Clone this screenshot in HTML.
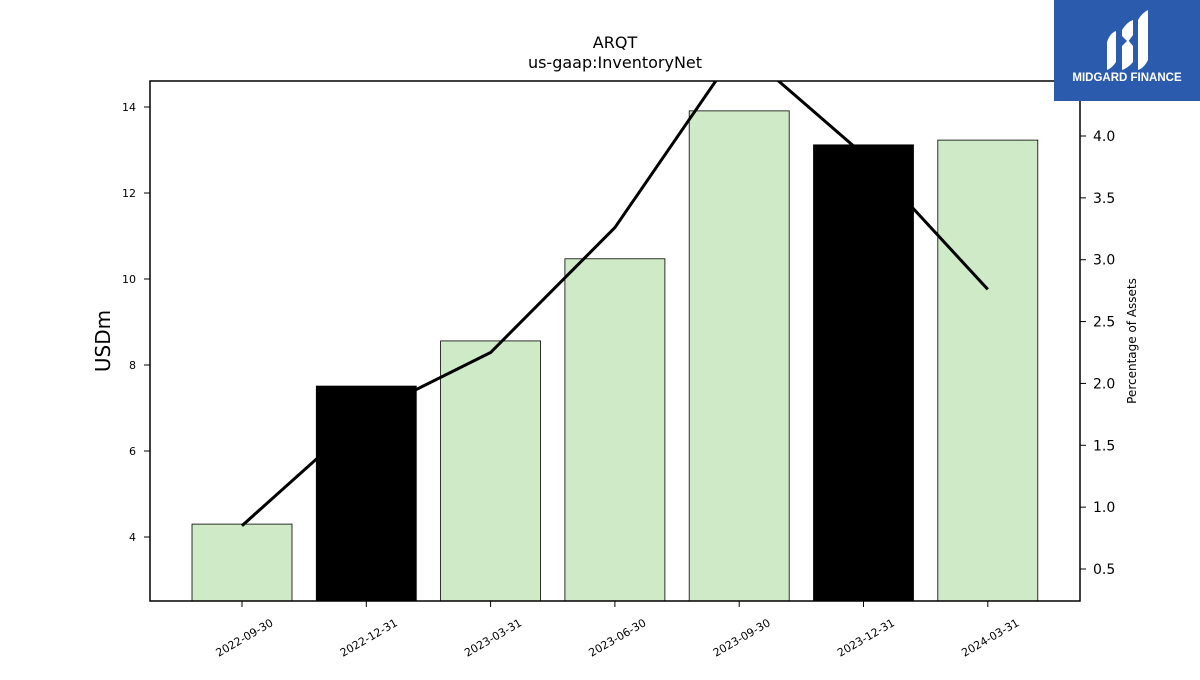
<!DOCTYPE html>
<html><head><meta charset="utf-8"><style>
body{margin:0;background:#fff;font-family:"Liberation Sans","DejaVu Sans",sans-serif}
</style></head><body>
<svg width="1200" height="675" xmlns="http://www.w3.org/2000/svg" font-family="DejaVu Sans, Liberation Sans, sans-serif">
<g id="bars"></g>
<polyline id="line" fill="none" stroke="#000" stroke-width="3" clip-path="url(#clip)"/>
<defs><clipPath id="clip"><rect x="150" y="81" width="930" height="520"/></clipPath></defs>
<rect x="150" y="81" width="930" height="520" fill="none" stroke="#000" stroke-width="1.5"/>
<g id="axes"></g>
<text x="615" y="48" font-size="16" text-anchor="middle">ARQT</text>
<text x="615" y="68" font-size="16" text-anchor="middle">us-gaap:InventoryNet</text>
<text transform="translate(110,341) rotate(-90)" font-size="20" text-anchor="middle">USDm</text>
<text transform="translate(1136,341) rotate(-90)" font-size="12" text-anchor="middle">Percentage of Assets</text>
<g>
<rect x="1054" y="0" width="146" height="101" fill="#2b5bad"/>
<path d="M1107 42 Q1110 33 1116 31 L1116 62 Q1112 68 1107 70 Z" fill="#fff"/>
<path d="M1122 30 Q1127 22 1133 20 L1133 35 L1128 42 L1122 36 Z M1122 46 L1128 40 L1133 46 L1133 62 Q1128 68 1122 70 Z" fill="#fff"/>
<path d="M1138 20 Q1142 13 1148 10 L1148 60 Q1144 68 1138 70 Z" fill="#fff"/>
<text x="1127" y="81" font-size="11.5" font-weight="bold" fill="#fff" text-anchor="middle" font-family="Liberation Sans, sans-serif">MIDGARD FINANCE</text>
</g>
</svg>
<script>
const categories=["2022-09-30","2022-12-31","2023-03-31","2023-06-30","2023-09-30","2023-12-31","2024-03-31"];
const barValues=[4.30,7.51,8.56,10.47,13.91,13.12,13.23];
const barHighlight=[0,1,0,0,0,1,0];
const pctValues=[0.85,1.75,2.25,3.26,4.72,3.85,2.76];
const leftTicks=[4,6,8,10,12,14];
const rightTicks=[0.5,1.0,1.5,2.0,2.5,3.0,3.5,4.0];
const NS="http://www.w3.org/2000/svg";
const yL=v=>537-(v-4)*43;
const yR=v=>569-(v-0.5)*(433/3.5);
const xC=i=>242+i*124.3;
function mk(t,a,p){const e=document.createElementNS(NS,t);for(const k in a)e.setAttribute(k,a[k]);p.appendChild(e);return e;}
const bars=document.getElementById('bars');
barValues.forEach((v,i)=>{
 const r=mk('rect',{x:xC(i)-50,y:yL(v),width:100,height:601-yL(v),fill:barHighlight[i]?'#000':'#cfeac6',stroke:'#000','stroke-width':0.8},bars);
 
 
});
document.getElementById('line').setAttribute('points',pctValues.map((v,i)=>xC(i)+','+yR(v)).join(' '));
const ax=document.getElementById('axes');
leftTicks.forEach(t=>{const y=yL(t);mk('line',{x1:144,x2:150,y1:y,y2:y,stroke:'#000'},ax);
 const tx=mk('text',{x:136,y:y+4,'font-size':11,'text-anchor':'end'},ax);tx.textContent=t;
 });
rightTicks.forEach(t=>{const y=yR(t);mk('line',{x1:1080,x2:1086,y1:y,y2:y,stroke:'#000'},ax);
 const tx=mk('text',{x:1093,y:y+5,'font-size':14},ax);tx.textContent=t.toFixed(1);
 });
categories.forEach((c,i)=>{const x=xC(i);mk('line',{x1:x,x2:x,y1:601,y2:607,stroke:'#000'},ax);
 const tx=mk('text',{x:x+32,y:625,'font-size':11,'text-anchor':'end',transform:`rotate(-30 ${x+32} 625)`},ax);tx.textContent=c;
 });
</script>
</body></html>
